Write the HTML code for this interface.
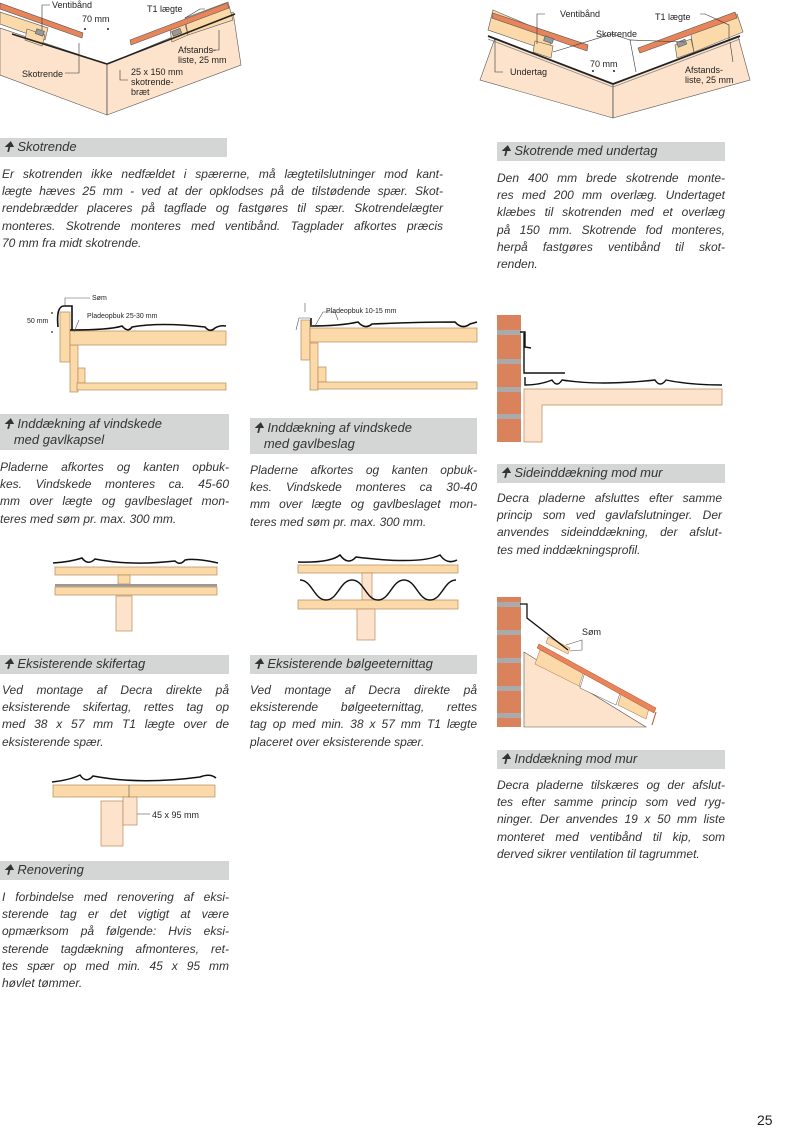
<!DOCTYPE html>
<html><head><meta charset="utf-8"><style>
body{margin:0;width:789px;height:1132px;position:relative;background:#fff;overflow:hidden;font-family:"Liberation Sans",sans-serif}
svg{position:absolute;left:0;top:0}
.bar{position:absolute;background:#d4d5d5;color:#333;font-style:italic;font-size:13px;line-height:17px;padding-left:3px;box-sizing:border-box}
.p{position:absolute;font-style:italic;font-size:12px;line-height:17.2px;color:#333}
.p div{text-align:justify;text-align-last:justify;white-space:nowrap;overflow:visible}
.p div.l{text-align-last:left}
.lbl{position:absolute;font-size:9px;color:#222;line-height:10px}
</style></head><body>
<svg width="789" height="1132" viewBox="0 0 789 1132">
<defs>
<path id="sheet" d="M0 0"/>
</defs>
<g stroke="#555" stroke-width="0.6">
<!-- Diagram 1 -->
<polygon points="0,28 107,64 107,115 0,75" fill="#fde3cc"/>
<polygon points="107,64 233,12 241,65 107,115" fill="#fde3cc"/>
<polygon points="0,12 48,28 45,40 0,24" fill="#fcd9a8"/>
<polygon points="27,29 45,35 42,46 25,40" fill="#fcd9a8"/>
<polygon points="170,30 185,24 188,35 172,42" fill="#fcd9a8"/>
<polygon points="185,18 228,2 233,20 188,35" fill="#fcd9a8"/>
<polygon points="0,3 83,33 82,38 0,9" fill="#e8845a"/>
<polygon points="130,40 227,3 229,8 131,45" fill="#e8845a"/>
<rect x="36" y="30" width="8" height="5" fill="#999" transform="rotate(20 40 32)"/>
<rect x="172" y="30" width="9" height="5" fill="#999" transform="rotate(-22 176 32)"/>
</g>
<polyline points="12,34 107,64 235,14" fill="none" stroke="#222" stroke-width="1.6"/>
<polyline points="107,64 107,115" stroke="#555" stroke-width="0.6"/>
<!-- Diagram 2 -->
<g stroke="#555" stroke-width="0.6">
<polygon points="495,38 613,84 613,118 480,80" fill="#fde3cc"/>
<polygon points="613,84 738,36 750,80 613,118" fill="#fde3cc"/>
<polygon points="493,10 552,35 549,51 488,30" fill="#fcd9a8"/>
<polygon points="535,41 553,46 551,58 533,52" fill="#fcd9a8"/>
<polygon points="675,45 691,39 694,52 677,58" fill="#fcd9a8"/>
<polygon points="690,30 737,14 743,32 694,52" fill="#fcd9a8"/>
<polygon points="493,13 588,45 587,51 492,18" fill="#e8845a"/>
<polygon points="638,48 735,12 737,18 640,53" fill="#e8845a"/>
<rect x="544" y="37" width="9" height="5" fill="#999" transform="rotate(20 548 40)"/>
<rect x="677" y="41" width="9" height="5" fill="#999" transform="rotate(-22 681 43)"/>
</g>
<polyline points="488,36 613,84 740,36" fill="none" stroke="#222" stroke-width="1.8"/>
<polyline points="488,39 613,87 740,39" fill="none" stroke="#888" stroke-width="0.8"/>
<line x1="613" y1="84" x2="613" y2="118" stroke="#555" stroke-width="0.6"/>
<g stroke="#333" stroke-width="0.6" fill="none">
<polyline points="537,44 537,14 545,14"/><polyline points="553,52 612,34 630,40"/><polyline points="685,42 630,40 636,72"/>
<polyline points="495,38 495,72 503,72"/><polyline points="729,40 729,25 705,14 700,14"/><polyline points="730,42 733,62"/>
<polyline points="42,30 42,5 50,5"/><polyline points="79,43 79,73 65,73"/><polyline points="185,18 200,9 205,9"/><polyline points="219,30 219,50 212,50"/><polyline points="120,70 120,80 128,80"/>
</g>
<g fill="#222"><circle cx="85" cy="29" r="1"/><circle cx="108" cy="29" r="1"/><circle cx="593" cy="71" r="1"/><circle cx="614" cy="71" r="1"/></g>

<!-- Vindskede 1 -->
<g stroke="#8a6" stroke-width="0" ></g>
<g stroke="#b58a5a" stroke-width="0.7" fill="#fcd9a8">
<rect x="60" y="312" width="10" height="50"/>
<rect x="70" y="345" width="8" height="47"/>
<rect x="70" y="331" width="156" height="14"/>
<rect x="78" y="368" width="7" height="15"/>
<rect x="77" y="383" width="149" height="7"/>
</g>
<path d="M58,327 Q56,306 64,306 L72,306 L72,330 M70,330 Q110,330 122,326 Q128,333 132,327 Q160,322 205,327 Q210,333 215,328 Q220,325 226,326" fill="none" stroke="#111" stroke-width="1.6"/>
<path d="M65,305 L65,298 L90,298 M79,320 L74,332" fill="none" stroke="#555" stroke-width="0.6"/>
<!-- Vindskede 2 -->
<g stroke="#b58a5a" stroke-width="0.7" fill="#fcd9a8">
<rect x="301" y="320" width="9" height="40"/>
<rect x="310" y="343" width="8" height="47"/>
<rect x="310" y="328" width="167" height="14"/>
<rect x="318" y="367" width="8" height="15"/>
<rect x="318" y="382" width="159" height="7"/>
</g>
<path d="M311,325 L311,318 M310,326 Q340,326 358,322 Q365,330 372,324 Q420,322 455,322 Q462,330 470,324 L477,322" fill="none" stroke="#111" stroke-width="1.6"/>
<path d="M305,303 L305,312 M296,330 L299,318 L310,318 M315,326 L323,312 L335,312 L338,320" fill="none" stroke="#555" stroke-width="0.6"/>
<g fill="#222"><circle cx="52" cy="313" r="0.9"/><circle cx="52" cy="332" r="0.9"/></g>

<!-- Sideinddækning -->
<rect x="497" y="315" width="24" height="127" fill="#d9825c"/>
<g fill="#aaa"><rect x="497" y="330" width="24" height="5"/><rect x="497" y="359" width="24" height="5"/><rect x="497" y="387" width="24" height="5"/><rect x="497" y="414" width="24" height="5"/></g>
<path d="M524,389 H722 V405 H542 V442 H524 Z" fill="#fde3cc" stroke="#b58a5a" stroke-width="0.7"/>
<path d="M520,332 H525 V347 L531,348 M524,333 V373 H565 M525,377 V385 Q540,385 552,380 Q557,388 562,380 Q600,386 655,380 Q660,388 666,380 Q690,385 722,385" fill="none" stroke="#111" stroke-width="1.4"/>

<!-- Inddækning mod mur -->
<rect x="497" y="597" width="24" height="130" fill="#d9825c"/>
<g fill="#aaa"><rect x="497" y="602" width="24" height="5"/><rect x="497" y="630" width="24" height="5"/><rect x="497" y="658" width="24" height="5"/><rect x="497" y="686" width="24" height="5"/><rect x="497" y="713" width="24" height="5"/></g>
<polygon points="524,652 524,727 646,727" fill="#fde3cc" stroke="#555" stroke-width="0.6"/>
<polygon points="540,650 584,671 579,686 535,664" fill="#fcd9a8" stroke="#b58a5a" stroke-width="0.6"/>
<polygon points="585,672 621,690 616,705 580,688" fill="#fff" stroke="#555" stroke-width="0.5"/>
<polygon points="622,691 650,705 646,719 618,705" fill="#fcd9a8" stroke="#b58a5a" stroke-width="0.6"/>
<polygon points="539,644 656,708 654,713 537,648" fill="#e8845a" stroke="#b05030" stroke-width="0.5"/>
<polygon points="548,637 570,648 568,654 546,643" fill="#fcd9a8" stroke="#b58a5a" stroke-width="0.6"/>
<path d="M520,604 H527 V618 L568,650" fill="none" stroke="#111" stroke-width="1.3"/>
<path d="M566,645 L582,640 L582,650 L570,651" fill="none" stroke="#555" stroke-width="0.6"/>
<path d="M656,712 L652,725" stroke="#b05030" stroke-width="1"/>

<!-- Skifertag -->
<path d="M53,563 Q70,562 82,558 Q88,566 95,559 Q130,566 175,561 Q180,566 185,560 Q195,558 218,563" fill="none" stroke="#111" stroke-width="1.5"/>
<g stroke="#b58a5a" stroke-width="0.7" fill="#fcd9a8">
<rect x="55" y="567" width="162" height="8"/>
<rect x="118" y="575" width="12" height="9"/>
<rect x="55" y="587" width="162" height="8"/>
<rect x="116" y="596" width="16" height="35" fill="#fde3cc"/>
</g>
<rect x="55" y="584" width="162" height="2.5" fill="#999"/>
<!-- Bølge -->
<path d="M298,562 Q330,563 340,555 Q348,566 356,557 Q420,565 440,555 Q447,565 457,560" fill="none" stroke="#111" stroke-width="1.5"/>
<g stroke="#b58a5a" stroke-width="0.7" fill="#fcd9a8">
<rect x="298" y="565" width="160" height="8"/>
<rect x="362" y="573" width="10" height="27" fill="#fde3cc"/>
<rect x="298" y="600" width="160" height="9"/>
<rect x="357" y="609" width="18" height="31" fill="#fde3cc"/>
</g>
<path d="M300,580 C312,580 314,600 326,600 C338,600 340,580 352,580 C364,580 366,600 378,600 C390,600 392,580 404,580 C416,580 418,600 430,600 C442,600 444,580 456,580" fill="none" stroke="#111" stroke-width="1.5" transform="translate(0,0)"/>
<!-- Renovering -->
<path d="M52,782 Q70,780 80,775 Q86,784 93,776 Q140,785 200,777 Q210,773 216,778" fill="none" stroke="#111" stroke-width="1.5"/>
<g stroke="#b58a5a" stroke-width="0.7" fill="#fcd9a8">
<rect x="53" y="785" width="162" height="12"/>
<rect x="101" y="801" width="22" height="45" fill="#fde3cc"/>
<rect x="123" y="797" width="14" height="28" fill="#fde3cc"/>
</g>
<line x1="129" y1="785" x2="129" y2="797" stroke="#555" stroke-width="0.6"/>
<line x1="137" y1="814" x2="150" y2="814" stroke="#555" stroke-width="0.6"/>
</svg>

<div class="lbl" style="left:52px;top:0px">Ventibånd</div>
<div class="lbl" style="left:82px;top:14px">70 mm</div>
<div class="lbl" style="left:147px;top:4px">T1 lægte</div>
<div class="lbl" style="left:178px;top:45px">Afstands-<br>liste, 25 mm</div>
<div class="lbl" style="left:22px;top:69px">Skotrende</div>
<div class="lbl" style="left:131px;top:67px">25 x 150 mm<br>skotrende-<br>bræt</div>
<div class="lbl" style="left:560px;top:9px">Ventibånd</div>
<div class="lbl" style="left:655px;top:12px">T1 lægte</div>
<div class="lbl" style="left:596px;top:29px">Skotrende</div>
<div class="lbl" style="left:510px;top:67px">Undertag</div>
<div class="lbl" style="left:590px;top:59px">70 mm</div>
<div class="lbl" style="left:685px;top:65px">Afstands-<br>liste, 25 mm</div>
<div class="lbl" style="left:92px;top:294px;font-size:7px">Søm</div>
<div class="lbl" style="left:87px;top:312px;font-size:7px">Pladeopbuk 25-30 mm</div>
<div class="lbl" style="left:27px;top:317px;font-size:7px">50 mm</div>
<div class="lbl" style="left:326px;top:307px;font-size:7px">Pladeopbuk 10-15 mm</div>
<div class="lbl" style="left:582px;top:627px">Søm</div>
<div class="lbl" style="left:152px;top:810px">45 x 95 mm</div>

<div class="bar" style="left:0;top:138px;width:227px;height:19px">🠉 Skotrende</div>
<div class="bar" style="left:497px;top:142px;width:228px;height:19px">🠉 Skotrende med undertag</div>
<div class="bar" style="left:0;top:414px;width:229px;height:36px;line-height:16px;padding-top:2px">🠉 Inddækning af vindskede<br>&nbsp;&nbsp;&nbsp;med gavlkapsel</div>
<div class="bar" style="left:250px;top:418px;width:227px;height:36px;line-height:16px;padding-top:2px">🠉 Inddækning af vindskede<br>&nbsp;&nbsp;&nbsp;med gavlbeslag</div>
<div class="bar" style="left:497px;top:464px;width:228px;height:19px">🠉 Sideinddækning mod mur</div>
<div class="bar" style="left:0;top:655px;width:229px;height:19px">🠉 Eksisterende skifertag</div>
<div class="bar" style="left:250px;top:655px;width:227px;height:19px">🠉 Eksisterende bølgeeternittag</div>
<div class="bar" style="left:497px;top:750px;width:228px;height:19px">🠉 Inddækning mod mur</div>
<div class="bar" style="left:0;top:861px;width:229px;height:19px">🠉 Renovering</div>

<div class="p" style="left:2px;top:166px;width:441px">
<div>Er skotrenden ikke nedfældet i spærerne, må lægtetilslutninger mod kant-</div>
<div>lægte hæves 25 mm - ved at der opklodses på de tilstødende spær. Skot-</div>
<div>rendebrædder placeres på tagflade og fastgøres til spær. Skotrendelægter</div>
<div>monteres. Skotrende monteres med ventibånd. Tagplader afkortes præcis</div>
<div class="l">70 mm fra midt skotrende.</div></div>

<div class="p" style="left:497px;top:170px;width:228px">
<div>Den 400 mm brede skotrende monte-</div>
<div>res med 200 mm overlæg. Undertaget</div>
<div>klæbes til skotrenden med et overlæg</div>
<div>på 150 mm. Skotrende fod monteres,</div>
<div>herpå fastgøres ventibånd til skot-</div>
<div class="l">renden.</div></div>

<div class="p" style="left:0;top:459px;width:229px">
<div>Pladerne afkortes og kanten opbuk-</div>
<div>kes. Vindskede monteres ca. 45-60</div>
<div>mm over lægte og gavlbeslaget mon-</div>
<div class="l">teres med søm pr. max. 300 mm.</div></div>

<div class="p" style="left:250px;top:462px;width:227px">
<div>Pladerne afkortes og kanten opbuk-</div>
<div>kes. Vindskede monteres ca 30-40</div>
<div>mm over lægte og gavlbeslaget mon-</div>
<div class="l">teres med søm pr. max. 300 mm.</div></div>

<div class="p" style="left:497px;top:490px;width:225px">
<div>Decra pladerne afsluttes efter samme</div>
<div>princip som ved gavlafslutninger. Der</div>
<div>anvendes sideinddækning, der afslut-</div>
<div class="l">tes med inddækningsprofil.</div></div>

<div class="p" style="left:2px;top:682px;width:227px">
<div>Ved montage af Decra direkte på</div>
<div>eksisterende skifertag, rettes tag op</div>
<div>med 38 x 57 mm T1 lægte over de</div>
<div class="l">eksisterende spær.</div></div>

<div class="p" style="left:250px;top:682px;width:227px">
<div>Ved montage af Decra direkte på</div>
<div>eksisterende bølgeeternittag, rettes</div>
<div>tag op med min. 38 x 57 mm T1 lægte</div>
<div class="l">placeret over eksisterende spær.</div></div>

<div class="p" style="left:497px;top:777px;width:228px">
<div>Decra pladerne tilskæres og der afslut-</div>
<div>tes efter samme princip som ved ryg-</div>
<div>ninger. Der anvendes 19 x 50 mm liste</div>
<div>monteret med ventibånd til kip, som</div>
<div class="l">derved sikrer ventilation til tagrummet.</div></div>

<div class="p" style="left:2px;top:889px;width:227px">
<div>I forbindelse med renovering af eksi-</div>
<div>sterende tag er det vigtigt at være</div>
<div>opmærksom på følgende: Hvis eksi-</div>
<div>sterende tagdækning afmonteres, ret-</div>
<div>tes spær op med min. 45 x 95 mm</div>
<div class="l">høvlet tømmer.</div></div>

<div style="position:absolute;left:757px;top:1112px;font-size:14px;color:#222">25</div>
</body></html>
